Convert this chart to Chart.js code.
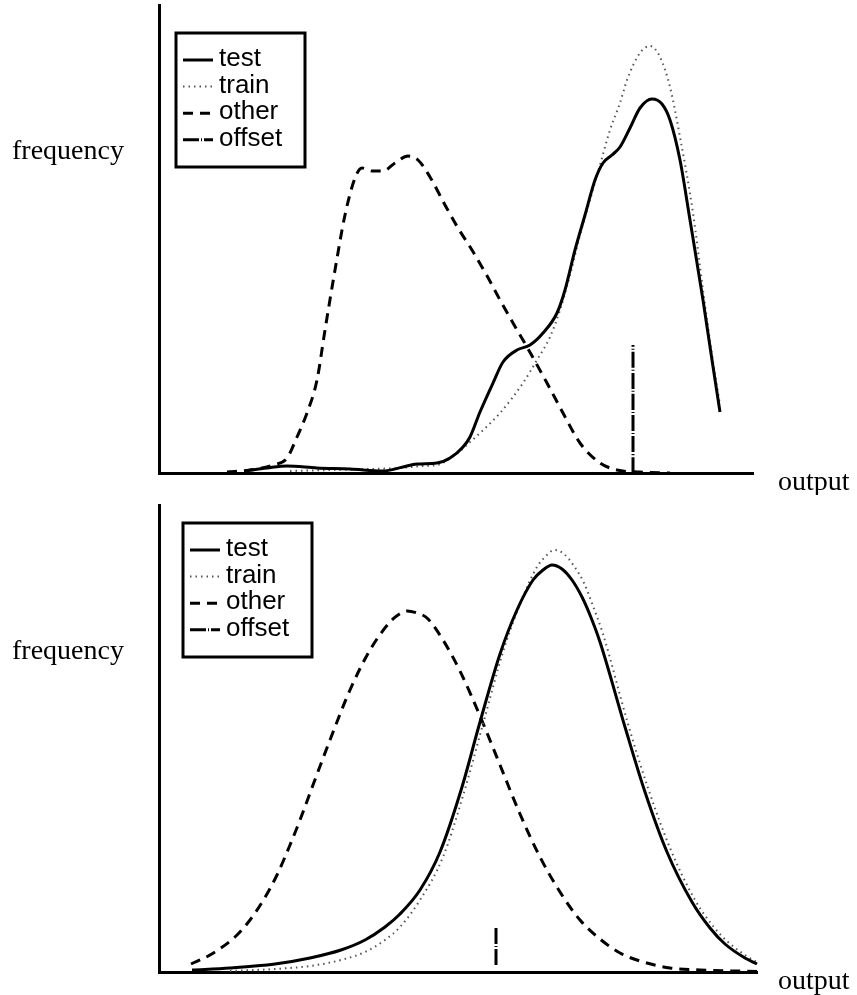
<!DOCTYPE html>
<html>
<head>
<meta charset="utf-8">
<script src="https://cdn.jsdelivr.net/npm/chart.js@4.4.0/dist/chart.umd.min.js"></script>
<style>
  html, body { margin: 0; padding: 0; background: #fff; }
  canvas { display: block; }
</style>
</head>
<body>
<canvas id="topChart" width="857" height="495"></canvas>
<canvas id="bottomChart" width="857" height="500"></canvas>
<script>
// series labels and axis names
const seriesLabels = ["test", "train", "other", "offset"];
const yName = "frequency";
const xName = "output";

// top panel, [output, frequency]
const topTest = [[86,2],[108,5],[128,7],[158,5],[191,4],[224,2],[244,6],[258,9],[278,10],[291,15],[304,26],[311,36],[321,61],[334,90],[344,111],[358,123],[371,128],[384,140],[398,160],[406,183],[416,223],[426,258],[436,293],[444,310],[453,318],[461,326],[471,345],[481,365],[493,374],[503,369],[511,353],[521,313],[531,253],[544,173],[553,113],[561,61]];
const topTrain = [[131,2],[171,3],[211,4],[241,5],[264,7],[278,8],[296,18],[311,31],[321,40],[341,60],[364,90],[378,113],[391,136],[401,163],[411,198],[421,238],[431,273],[441,308],[451,343],[461,370],[468,393],[481,420],[491,427],[501,416],[511,386],[521,336],[534,260],[544,183],[553,118],[561,68]];
const topOther = [[68,1],[91,3],[114,8],[128,15],[138,36],[148,60],[158,93],[166,143],[176,203],[186,258],[196,295],[203,305],[213,302],[224,302],[236,310],[249,317],[259,313],[271,296],[286,268],[299,245],[313,223],[327,199],[341,173],[354,150],[368,126],[388,90],[404,60],[421,30],[441,10],[458,3],[481,1],[511,0]];
const topOffset = [[474,0],[474,128]];

// bottom panel
const bottomTest = [[33,2],[71,4],[116,8],[151,14],[182,22],[206,32],[226,45],[241,58],[261,82],[281,120],[303,185],[321,250],[341,318],[358,362],[374,392],[384,402],[393,407],[403,403],[413,392],[423,375],[431,357],[441,330],[466,245],[486,180],[508,120],[533,70],[551,44],[566,28],[586,14],[598,8]];
const bottomTrain = [[71,1],[116,3],[151,6],[182,12],[206,20],[226,32],[241,45],[261,72],[284,115],[306,183],[324,248],[344,320],[361,368],[378,405],[387,416],[395,422],[405,418],[415,406],[425,389],[434,366],[444,338],[469,248],[489,184],[511,124],[536,72],[554,46],[569,30],[589,15],[598,10]];
const bottomOther = [[32,8],[51,17],[77,36],[91,52],[105,73],[118,97],[131,127],[141,152],[154,187],[171,232],[191,282],[211,322],[231,350],[239,357],[248,361],[258,359],[268,354],[284,332],[301,301],[321,256],[341,207],[361,158],[381,115],[401,80],[421,52],[441,33],[461,19],[481,11],[511,4],[541,2],[598,0.5]];
const bottomOffset = [[337,7],[337,46]];

const toPoints = arr => arr.map(p => ({ x: p[0], y: p[1] }));

const styles = [
  { borderColor: "#000", borderWidth: 3, borderDash: [] },
  { borderColor: "#555", borderWidth: 2, borderDash: [1.5, 4] },
  { borderColor: "#000", borderWidth: 3, borderDash: [10, 7] },
  { borderColor: "#000", borderWidth: 3, borderDash: [16, 2, 1, 2] }
];

const framePlugin = {
  id: "frame",
  afterDraw(chart, args, opts) {
    const { ctx, chartArea } = chart;
    ctx.save();
    ctx.fillStyle = "#000";
    ctx.textBaseline = "alphabetic";
    ctx.font = '28px "Liberation Serif"';
    ctx.fillText(yName, 12, chartArea.top + 154);
    ctx.fillText(xName, 778, chartArea.bottom + 17);

    // legend box in the top-left of the plot
    const bx = chartArea.left + opts.left;
    const by = chartArea.top + opts.top;
    ctx.lineWidth = 3;
    ctx.strokeStyle = "#000";
    ctx.setLineDash([]);
    ctx.strokeRect(bx, by, 129, 134);
    ctx.font = '26px "Liberation Sans"';
    chart.data.datasets.forEach((ds, i) => {
      const base = by + 33 + i * 26.6;
      ctx.beginPath();
      ctx.setLineDash(ds.borderDash);
      ctx.lineWidth = ds.borderWidth;
      ctx.strokeStyle = ds.borderColor;
      ctx.moveTo(bx + 7, base - 6);
      ctx.lineTo(bx + 37, base - 6);
      ctx.stroke();
      ctx.setLineDash([]);
      ctx.fillText(ds.label, bx + 43, base);
    });
    ctx.restore();
  }
};

function makeChart(id, series, xMax, yMax, padding, legendPos) {
  const datasets = series.map((s, i) => ({
    label: seriesLabels[i],
    data: toPoints(s),
    borderColor: styles[i].borderColor,
    borderWidth: styles[i].borderWidth,
    borderDash: styles[i].borderDash,
    pointRadius: 0,
    fill: false,
    tension: 0.4,
    cubicInterpolationMode: "monotone",
    clip: 4
  }));
  return new Chart(document.getElementById(id), {
    type: "line",
    data: { datasets },
    options: {
      responsive: false,
      animation: false,
      layout: { padding },
      plugins: {
        legend: { display: false },
        tooltip: { enabled: false },
        frame: legendPos
      },
      scales: {
        x: {
          type: "linear", min: 0, max: xMax,
          ticks: { display: false },
          grid: { display: false, drawTicks: false },
          border: { display: true, color: "#000", width: 3 }
        },
        y: {
          type: "linear", min: 0, max: yMax,
          ticks: { display: false },
          grid: { display: false, drawTicks: false },
          border: { display: true, color: "#000", width: 3 }
        }
      }
    },
    plugins: [framePlugin]
  });
}

makeChart("topChart", [topTest, topTrain, topOther, topOffset], 594, 468,
  { left: 159, top: 5, right: 104, bottom: 22 }, { left: 17, top: 28 });
makeChart("bottomChart", [bottomTest, bottomTrain, bottomOther, bottomOffset], 598, 467,
  { left: 159, top: 10, right: 100, bottom: 23 }, { left: 24, top: 18 });
</script>
</body>
</html>
